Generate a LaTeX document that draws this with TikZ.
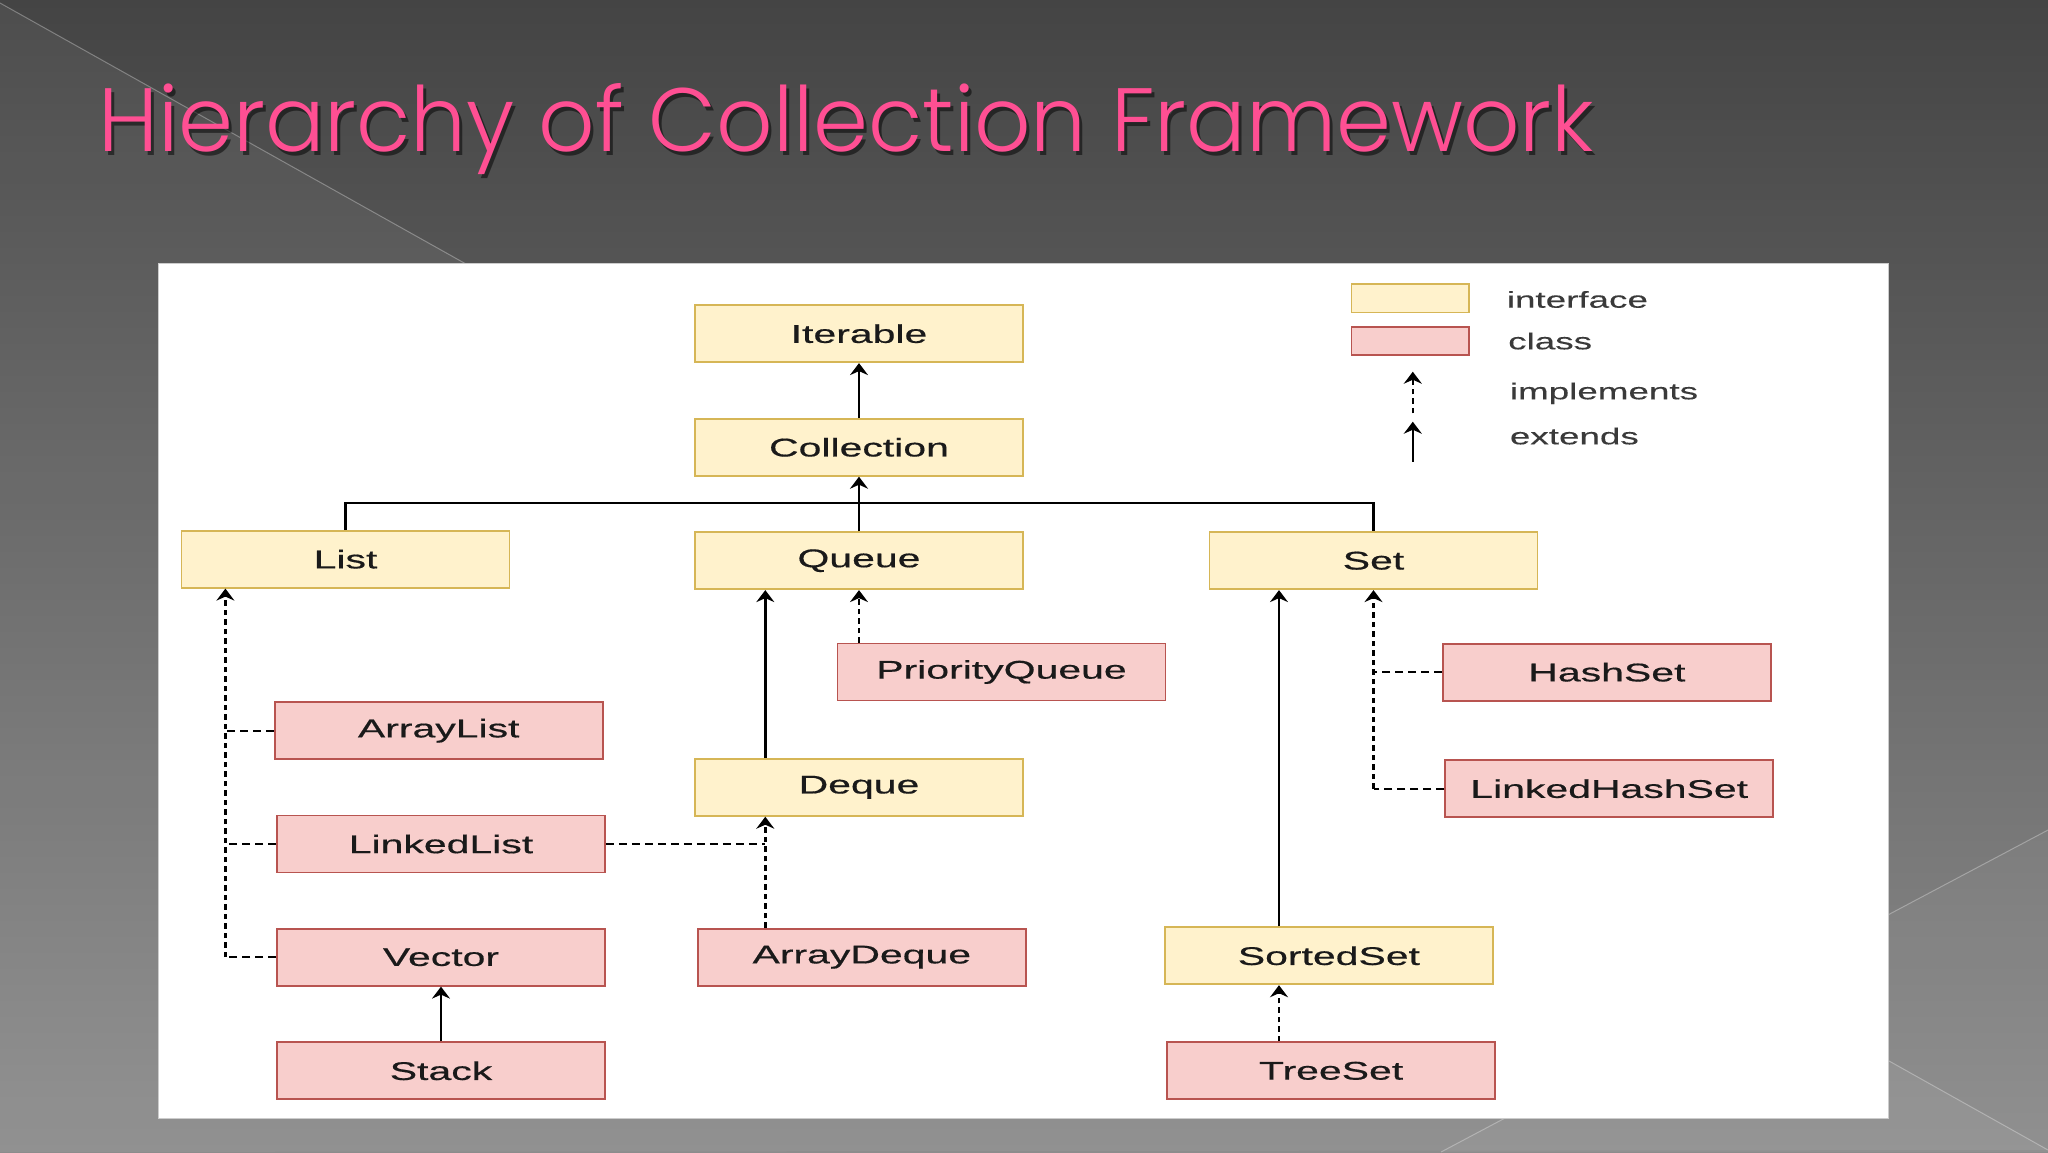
\documentclass[tikz,border=0pt]{standalone}
\usepackage{fontspec}
\usepackage{graphicx}
\setmainfont{Liberation Sans}
\newfontfamily\boxfont[FakeStretch=1.6,FakeBold=0.5]{Liberation Sans}
\newfontfamily\legfont[FakeStretch=1.6,FakeBold=0.2]{Liberation Sans}
\newfontfamily\titlefont{Poppins Light}
\usetikzlibrary{arrows.meta,calc}
\definecolor{ifill}{HTML}{FFF2CC}
\definecolor{idraw}{HTML}{D6B656}
\definecolor{cfill}{HTML}{F8CECC}
\definecolor{cdraw}{HTML}{B85450}
\definecolor{titlepink}{HTML}{FF4F93}
\definecolor{bgtop}{HTML}{444444}
\definecolor{bgmid}{HTML}{5C5C5C}
\definecolor{bgbot}{HTML}{8C8C8C}
\definecolor{labeltext}{HTML}{1A1A1A}
\definecolor{legtextcol}{HTML}{3A3A3A}
\tikzset{
  boxbase/.style={line width=1.8pt, minimum width=328pt, minimum height=57pt, inner sep=0pt,
    font=\boxfont\fontsize{25.6}{30}\selectfont, text=labeltext},
  iface/.style={boxbase, draw=idraw, fill=ifill},
  cls/.style={boxbase, draw=cdraw, fill=cfill},
  ext/.style={line width=2.5pt, -{Stealth[length=12pt,width=18pt,inset=4pt]}},
  impl/.style={ext, dash pattern=on 5.5pt off 4pt},
  plainline/.style={line width=2.3pt},
  impline/.style={line width=2.3pt, dash pattern=on 8pt off 5pt},
  legbox/.style={line width=1.5pt, minimum width=117.4pt, minimum height=28.3pt, inner sep=0pt},
  legtext/.style={anchor=base west, inner sep=0pt, text=legtextcol,
    font=\legfont\fontsize{23}{27}\selectfont}
}
\begin{document}
\begin{tikzpicture}[x=1pt,y=-1pt]
\useasboundingbox (0,0) rectangle (2048,1152);
% slide background
\fill[top color=bgtop, middle color=bgmid, bottom color=bgbot] (0,0) rectangle (2048,1152);
\fill[white, opacity=0.05] (0,3) -- (2048,1150) -- (0,1152) -- cycle;
\fill[white, opacity=0.04] (1441,1152) -- (2048,830) -- (2048,1152) -- cycle;
\draw[white, opacity=0.3, line width=1pt] (0,3) -- (2048,1150);
\draw[white, opacity=0.3, line width=1pt] (1441,1152) -- (2048,830);
% title
\node[anchor=base west, inner sep=0pt, text=black, opacity=0.5] (titleshadow) at (101,155)
  {\resizebox{1495pt}{68pt}{\titlefont Hierarchy of Collection Framework}};
\node[anchor=base west, inner sep=0pt, text=titlepink] (title) at (98,151.7)
  {\resizebox{1495pt}{68pt}{\titlefont Hierarchy of Collection Framework}};
% panel
\fill[white] (158.6,263.3) rectangle (1888.3,1118.3);
\draw[black!20, line width=1.2pt] (158.6,263.3) rectangle (1888.3,1118.3);
% nodes
\node[iface] (Iterable) at (859,333.7) {Iterable};
\node[iface] (Collection) at (859,447.3) {Collection};
\node[iface] (List) at (345.5,559.2) {List};
\node[iface] (Queue) at (859,560.7) {Queue};
\node[iface] (Set) at (1373.5,560.7) {Set};
\node[cls] (PriorityQueue) at (1001.5,672) {PriorityQueue};
\node[cls] (HashSet) at (1606.9,672.2) {HashSet};
\node[cls] (ArrayList) at (438.7,730.7) {ArrayList};
\node[iface] (Deque) at (859,787.3) {Deque};
\node[cls] (LinkedHashSet) at (1609.2,788.7) {LinkedHashSet};
\node[cls] (LinkedList) at (441,844) {LinkedList};
\node[cls] (Vector) at (441,957.2) {Vector};
\node[cls] (ArrayDeque) at (861.8,957.2) {ArrayDeque};
\node[iface] (SortedSet) at (1328.9,955.8) {SortedSet};
\node[cls] (Stack) at (441,1070.8) {Stack};
\node[cls] (TreeSet) at (1331.1,1070.8) {TreeSet};
% helper coordinates
\coordinate (bus) at (859,502.7);
\coordinate (ListTap) at ($(List.south west)+(44.8,0)$);
\coordinate (DqIn) at ($(Deque.south)+(-93.7,0)$);
\coordinate (QIn) at ($(Queue.south)+(-93.7,0)$);
\coordinate (SetIn) at ($(Set.south)+(-94.5,0)$);
% connectors
\draw[ext] (Collection.north) -- (Iterable.south);
\draw[plainline] (List.north) |- (bus) -| (Set.north);
\draw[ext] (Queue.north) -- (Collection.south);
\draw[impline] (ArrayList.west) -- (ArrayList.west -| ListTap);
\draw[impline] (LinkedList.west) -- (LinkedList.west -| ListTap);
\draw[impline] (Vector.west) -- (Vector.west -| ListTap);
\draw[impl] (Vector.west -| ListTap) -- (ListTap);
\draw[ext] (Deque.north -| QIn) -- (QIn);
\draw[impl] (Queue.south |- PriorityQueue.north) -- (Queue.south);
\draw[impline] (LinkedList.east) -- (LinkedList.east -| DqIn);
\draw[impl] (ArrayDeque.north -| DqIn) -- (DqIn);
\draw[ext] (Stack.north) -- (Vector.south);
\draw[ext] (SortedSet.north -| SetIn) -- (SetIn);
\draw[impl] (TreeSet.north -| SetIn) -- (SortedSet.south -| SetIn);
\draw[impline] (HashSet.west) -- (HashSet.west -| Set.south);
\draw[impline] (LinkedHashSet.west) -- (LinkedHashSet.west -| Set.south);
\draw[impl] (LinkedHashSet.west -| Set.south) -- (Set.south);
% legend
\node[legbox, draw=idraw, fill=ifill] (legI) at (1410.2,298.3) {};
\node[legbox, draw=cdraw, fill=cfill] (legC) at (1410.2,341) {};
\node[legtext] (legIt) at (1506.6,307.7) {interface};
\node[legtext] (legCt) at (1508,349.3) {class};
\node[legtext] (legImt) at (1509.7,399.3) {implements};
\node[legtext] (legExt) at (1509.7,444.3) {extends};
\coordinate (impB) at (1412.8,413.3);
\coordinate (impT) at (1412.8,371.7);
\coordinate (extB) at (1412.8,461.7);
\coordinate (extT) at (1412.8,421.7);
\draw[impl] (impB) -- (impT);
\draw[ext] (extB) -- (extT);
\end{tikzpicture}
\end{document}
